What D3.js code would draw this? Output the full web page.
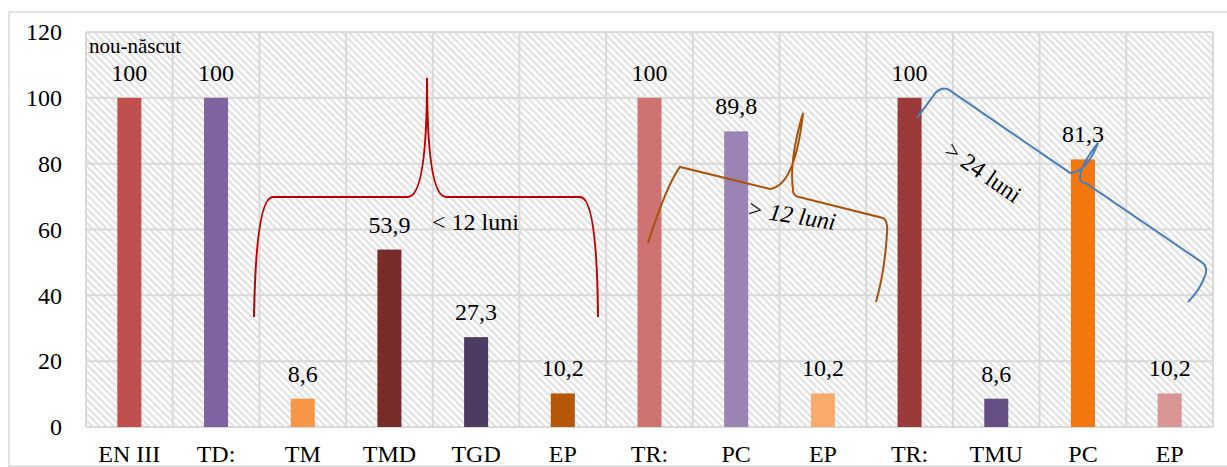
<!DOCTYPE html>
<html>
<head>
<meta charset="utf-8">
<script src="https://cdn.jsdelivr.net/npm/d3@7"></script>
<style>
  body { margin: 0; background: #fff; }
  svg text { fill: #000; }
</style>
</head>
<body>
<div id="chart"></div>
<script>
// categories and values
let categories = ["EN III", "TD:", "TM", "TMD", "TGD", "EP", "TR:", "PC", "EP", "TR:", "TMU", "PC", "EP"];
let values = [100, 100, 8.6, 53.9, 27.3, 10.2, 100, 89.8, 10.2, 100, 8.6, 81.3, 10.2];
let colors = ["#c0504d", "#8064a2", "#f79646", "#772c2a", "#4d3b62", "#b65708",
  "#cd7371", "#9b83b4", "#f9ab6b", "#9b3a38", "#654f85", "#f2770e", "#da9694"];
let yTicks = [0, 20, 40, 60, 80, 100, 120];

// brace annotations, in (category position, value) units
let braceRed = [
  ["M", 1.938, 33.4], ["Q", 1.961, 69.9, 2.157, 69.9], ["L", 3.714, 69.9],
  ["Q", 3.934, 69.9, 3.934, 106.0], ["Q", 3.934, 69.9, 4.153, 69.9], ["L", 5.698, 69.9],
  ["Q", 5.895, 69.9, 5.906, 33.4]
];
let braceBrown = [
  ["M", 6.483, 55.9], ["Q", 6.698, 73.5, 6.852, 79.0], ["L", 7.890, 72.3],
  ["Q", 8.179, 73.2, 8.271, 95.4], ["Q", 8.109, 81.1, 8.155, 72.0], ["Q", 8.155, 70.2, 8.225, 69.9],
  ["L", 9.193, 63.5], ["Q", 9.252, 62.6, 9.240, 59.2], ["Q", 9.217, 47.7, 9.113, 38.0]
];
let braceBlue = [
  ["M", 9.586, 93.9], ["L", 9.805, 101.7], ["Q", 9.885, 103.6, 9.955, 102.4], ["L", 11.351, 77.2],
  ["Q", 11.547, 77.5, 11.674, 86.3], ["Q", 11.466, 79.3, 11.466, 75.6], ["Q", 11.466, 74.4, 11.535, 74.1],
  ["L", 12.885, 49.8], ["Q", 12.943, 48.3, 12.908, 45.9], ["Q", 12.850, 41.6, 12.712, 38.0]
];

let width = 1227, height = 467;
let margin = {top: 32, bottom: 40, left: 86, right: 14};
let serif = "'Liberation Serif', 'Times New Roman', 'DejaVu Serif', serif";

let svg = d3.select("#chart").append("svg")
  .attr("width", width)
  .attr("height", height)
  .attr("font-family", serif);

// hatch pattern for the plot background
let defs = svg.append("defs");
let pat = defs.append("pattern")
  .attr("id", "hatch")
  .attr("patternUnits", "userSpaceOnUse")
  .attr("width", 5).attr("height", 5)
  .attr("patternTransform", "rotate(45)");
pat.append("rect").attr("width", 5).attr("height", 5).attr("fill", "#fff");
pat.append("rect").attr("width", 5).attr("height", 2.4).attr("fill", "#e2e2e2");

// outer frame
svg.append("rect")
  .attr("x", 9).attr("y", 12)
  .attr("width", width).attr("height", 454)
  .attr("fill", "none").attr("stroke", "#d9d9d9").attr("stroke-width", 1.5);

let x = d3.scaleBand()
  .domain(d3.range(categories.length))
  .range([margin.left, width - margin.right]);
let xPos = d3.scaleLinear().domain([0, categories.length]).range(x.range());
let y = d3.scaleLinear().domain([0, 120]).range([height - margin.bottom, margin.top]);

let plot = svg.append("g");
plot.append("rect")
  .attr("x", x.range()[0]).attr("y", y(120))
  .attr("width", x.range()[1] - x.range()[0]).attr("height", y(0) - y(120))
  .attr("fill", "url(#hatch)");

// grid lines
plot.selectAll(".hgrid").data(yTicks).enter().append("line")
  .attr("x1", x.range()[0]).attr("x2", x.range()[1])
  .attr("y1", d => y(d)).attr("y2", d => y(d))
  .attr("stroke", "#d9d9d9").attr("stroke-width", 2);
plot.selectAll(".vgrid").data(d3.range(categories.length + 1)).enter().append("line")
  .attr("x1", d => xPos(d)).attr("x2", d => xPos(d))
  .attr("y1", y(120)).attr("y2", y(0))
  .attr("stroke", "#d9d9d9").attr("stroke-width", 2);

// y axis labels
let yAxis = d3.axisLeft(y).tickValues(yTicks).tickSize(0).tickPadding(0);
let yg = svg.append("g")
  .attr("transform", "translate(62,0)")
  .call(yAxis)
  .attr("font-family", serif).attr("font-size", 24);
yg.select(".domain").remove();
yg.selectAll("text").attr("fill", "#000");

// x axis labels
let xAxis = d3.axisBottom(x).tickFormat(i => categories[i]).tickSize(0).tickPadding(0);
let xg = svg.append("g")
  .attr("transform", "translate(0,462)")
  .call(xAxis)
  .attr("font-family", serif).attr("font-size", 24);
xg.select(".domain").remove();
xg.selectAll("text").attr("dy", 0).attr("y", 0).attr("fill", "#000");

// bars
let barW = x.bandwidth() * 0.277;
plot.selectAll(".bar").data(values).enter().append("rect")
  .attr("x", (d, i) => x(i) + (x.bandwidth() - barW) / 2)
  .attr("y", d => y(d))
  .attr("width", barW)
  .attr("height", d => y(0) - y(d))
  .attr("fill", (d, i) => colors[i]);

// value labels
let fmt = d => String(d).replace(".", ",");
svg.selectAll(".lbl").data(values).enter().append("text")
  .attr("x", (d, i) => x(i) + x.bandwidth() / 2)
  .attr("y", d => y(d) - 17)
  .attr("text-anchor", "middle")
  .attr("font-size", 24)
  .text(fmt);

svg.append("text")
  .attr("x", x(0) + 3).attr("y", 53)
  .attr("font-size", 21)
  .text("nou-născut");

// braces
let bracePath = function(cmds) {
  return cmds.map(c => {
    let pts = [];
    for (let k = 1; k < c.length; k += 2) pts.push(xPos(c[k]) + "," + y(c[k + 1]));
    return c[0] + pts.join(" ");
  }).join(" ");
};
[[braceRed, "#c00000"], [braceBrown, "#a8520c"], [braceBlue, "#4a7ebb"]].forEach(b => {
  svg.append("path")
    .attr("d", bracePath(b[0]))
    .attr("fill", "none")
    .attr("stroke", b[1])
    .attr("stroke-width", 2);
});

// brace captions
svg.append("text")
  .attr("x", 432).attr("y", 230)
  .attr("font-size", 24)
  .text("< 12 luni");
svg.append("text")
  .attr("transform", "translate(746,216) rotate(9)")
  .attr("font-size", 24).attr("font-style", "italic")
  .text("> 12 luni");
svg.append("text")
  .attr("transform", "translate(943,154) rotate(35)")
  .attr("font-size", 24)
  .text("> 24 luni");
</script>
</body>
</html>
